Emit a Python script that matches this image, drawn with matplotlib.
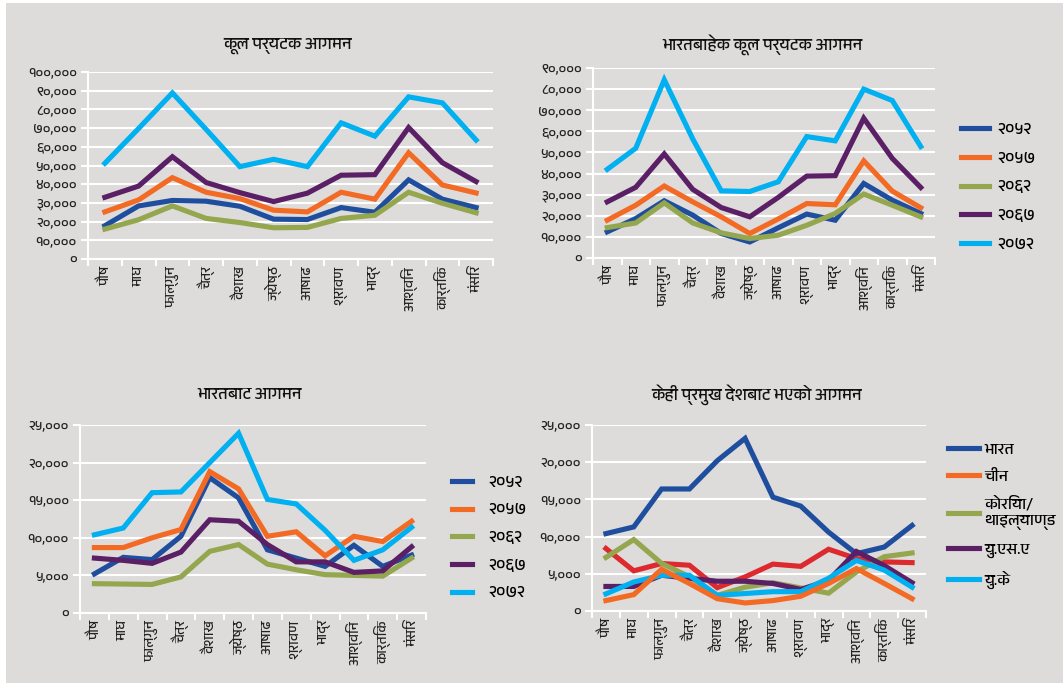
import numpy as np
import matplotlib
matplotlib.use("Agg")
import matplotlib.pyplot as plt
from matplotlib import font_manager
from matplotlib.patches import Rectangle
from matplotlib.ticker import FuncFormatter, FixedLocator


def find_devanagari_font():
    # police avec les glyphes devanagari, de préférence pas monospace
    try:
        from fontTools.ttLib import TTFont
    except ImportError:
        return None
    found = []
    for f in font_manager.fontManager.ttflist:
        try:
            cmap = TTFont(f.fname, fontNumber=0, lazy=True).getBestCmap()
        except Exception:
            continue
        if cmap and 0x0915 in cmap and 0x0966 in cmap:
            found.append(f.name)
    if not found:
        return None

    def rank(n):
        low = n.lower()
        score = 0
        if "mono" in low or "code" in low:
            score += 10
        if "serif" in low:
            score += 3
        if "devanagari" not in low:
            score += 1
        return score
    return sorted(set(found), key=lambda n: (rank(n), n))[0]


deva = find_devanagari_font()
families = ([deva] if deva else []) + ["DejaVu Sans"]
plt.rcParams["font.family"] = families

months = ["पौष", "माघ", "फाल्गुन", "चैत्र", "वैशाख", "ज्येष्ठ",
          "आषाढ", "श्रावण", "भाद्र", "आश्विन", "कार्तिक", "मंसिर"]
years = ["२०५२", "२०५७", "२०६२", "२०६७", "२०७२"]

# कूल पर्यटक आगमन
total_2052 = [17800, 28400, 31300, 30900, 28200, 21300, 21100, 27500, 25000, 42300, 32000, 27500]
total_2057 = [25200, 31600, 43500, 35700, 32300, 26100, 25200, 35700, 32000, 56800, 39600, 35300]
total_2062 = [16000, 21000, 28400, 21700, 19500, 16700, 16900, 21700, 23400, 35700, 29800, 24700]
total_2067 = [33000, 39000, 54700, 40900, 35500, 30700, 35200, 44800, 45100, 70300, 51500, 41400]
total_2072 = [51200, 69800, 88800, 69300, 49400, 53300, 49400, 72800, 65700, 86700, 83500, 63600]

# भारतबाहेक कूल पर्यटक आगमन
noind_2052 = [12400, 18700, 27100, 20300, 11600, 7600, 14300, 20800, 17900, 35300, 27400, 21100]
noind_2057 = [17900, 25000, 34100, 26600, 19500, 11600, 18500, 25800, 25200, 46000, 31700, 23800]
noind_2062 = [14400, 16600, 26100, 16600, 11900, 9200, 10800, 15500, 21100, 30300, 25000, 19500]
noind_2067 = [26600, 33500, 49300, 32500, 23900, 19500, 28700, 38800, 39000, 66200, 47200, 33400]
noind_2072 = [42000, 52000, 84400, 56400, 31800, 31500, 36100, 57500, 55500, 80000, 74600, 52800]

# भारतबाट आगमन
ind_2052 = [5200, 7400, 7100, 10200, 18000, 15300, 8400, 7300, 6200, 9000, 6200, 7700]
ind_2057 = [8700, 8700, 10000, 11100, 18800, 16500, 10200, 10800, 7600, 10200, 9500, 12200]
ind_2062 = [3900, 3850, 3800, 4800, 8200, 9100, 6500, 5750, 5100, 5000, 4900, 7300]
ind_2067 = [7300, 7000, 6600, 8100, 12400, 12200, 9100, 6800, 6800, 5400, 5600, 8800]
ind_2072 = [10400, 11300, 16000, 16100, 20000, 23900, 15100, 14500, 11000, 7000, 8400, 11400]

# केही प्रमुख देशबाट भएको आगमन
countries = ["भारत", "चीन", "कोरिया/\nथाइल्याण्ड", "यु.एस.ए", "यु.के"]
c_india = [10400, 11300, 16400, 16400, 20200, 23200, 15300, 14100, 10600, 7700, 8600, 11500]
c_china = [1400, 2200, 5600, 3700, 1650, 1080, 1400, 1980, 3700, 5700, 3700, 1650]
c_korea = [7200, 9600, 6400, 4600, 2100, 3200, 3800, 3100, 2400, 5250, 7300, 7800]
c_usa = [3300, 3300, 4800, 4400, 4000, 4000, 3700, 2900, 4100, 8000, 6100, 3800]
c_uk = [2300, 3900, 4800, 4800, 2100, 2350, 2600, 2600, 4400, 6800, 5500, 3200]
c_other = [8400, 5400, 6380, 6150, 3140, 4580, 6300, 6000, 8300, 7050, 6600, 6500]

colors = ["#1f4e9f", "#f36a24", "#94a64e", "#5b1f66", "#00b0f0"]
red = "#dc2a2e"
bg = "#dddcda"
lw = 3.7

W, H = 1063, 683
fig = plt.figure(figsize=(W / 100, H / 100), dpi=100, facecolor="white")
fig.patches.append(Rectangle((6 / W, 0), 1 - 6 / W, 1 - 3 / H, transform=fig.transFigure,
                             facecolor=bg, edgecolor="none", zorder=-10))

deva_digits = str.maketrans("0123456789", "०१२३४५६७८९")


def yfmt(v, pos):
    return f"{int(round(v)):,}".translate(deva_digits)


def make_axes(l, r, t, b):
    return fig.add_axes([l / W, 1 - b / H, (r - l) / W, (b - t) / H])


def style(ax, ymax, ystep, title, tx, ty):
    ax.set_facecolor("none")
    ax.set_xlim(-0.5, 11.5)
    ax.set_ylim(0, ymax)
    ax.yaxis.set_major_locator(FixedLocator(np.arange(0, ymax + 1, ystep)))
    ax.yaxis.set_major_formatter(FuncFormatter(yfmt))
    ax.xaxis.set_major_locator(FixedLocator(np.arange(-0.5, 12, 1)))
    ax.xaxis.set_major_formatter(FuncFormatter(lambda v, p: ""))
    ax.xaxis.set_minor_locator(FixedLocator(np.arange(12)))
    ax.set_xticklabels(months, minor=True, rotation=90, fontsize=10, color="#222222")
    ax.tick_params(axis="x", which="minor", length=0, pad=5)
    ax.tick_params(axis="x", which="major", length=5, width=1.5, color="white")
    ax.tick_params(axis="y", length=5, width=1.5, color="white", labelsize=10,
                   labelcolor="#222222", pad=3)
    ax.grid(axis="y", color="white", lw=1.5)
    ax.set_axisbelow(True)
    for s in ["top", "right"]:
        ax.spines[s].set_visible(False)
    for s in ["left", "bottom"]:
        ax.spines[s].set_color("white")
        ax.spines[s].set_linewidth(1.5)
    fig.text(tx / W, 1 - ty / H, title, ha="center", va="center", fontsize=12, color="#111111")


x = np.arange(12)

ax1 = make_axes(88, 493, 72, 259)
for vals, c in zip([total_2052, total_2057, total_2062, total_2067, total_2072], colors):
    ax1.plot(x, vals, color=c, lw=lw, solid_joinstyle="miter")
style(ax1, 100000, 10000, "कूल पर्यटक आगमन", 288, 46)

ax2 = make_axes(593, 935, 68, 258)
for vals, c, lab in zip([noind_2052, noind_2057, noind_2062, noind_2067, noind_2072], colors, years):
    ax2.plot(x, vals, color=c, lw=lw, label=lab, solid_joinstyle="miter")
style(ax2, 90000, 10000, "भारतबाहेक कूल पर्यटक आगमन", 762, 45)
ax2.legend(loc="upper left", bbox_to_anchor=(946 / W, 1 - 107 / H), bbox_transform=fig.transFigure,
           frameon=False, fontsize=12, handlelength=1.7, handletextpad=0.5, labelspacing=0.85)

ax3 = make_axes(80, 426, 425, 613)
for vals, c, lab in zip([ind_2052, ind_2057, ind_2062, ind_2067, ind_2072], colors, years):
    ax3.plot(x, vals, color=c, lw=lw, label=lab, solid_joinstyle="miter")
style(ax3, 25000, 5000, "भारतबाट आगमन", 250, 395)
ax3.legend(loc="upper left", bbox_to_anchor=(437 / W, 1 - 460 / H), bbox_transform=fig.transFigure,
           frameon=False, fontsize=12, handlelength=1.2, handletextpad=1.0, labelspacing=0.78)

ax4 = make_axes(592, 926, 425, 611)
ax4.plot(x, c_other, color=red, lw=lw, label="_nolegend_", solid_joinstyle="miter")
for vals, c, lab in zip([c_india, c_korea, c_usa, c_uk, c_china], colors[:1] + colors[2:] + colors[1:2],
                        [countries[0], countries[2], countries[3], countries[4], countries[1]]):
    ax4.plot(x, vals, color=c, lw=lw, label=lab, solid_joinstyle="miter")
style(ax4, 25000, 5000, "केही प्रमुख देशबाट भएको आगमन", 757, 395)
h, l = ax4.get_legend_handles_labels()
order = [l.index(n) for n in countries]
ax4.legend([h[i] for i in order], [l[i] for i in order], loc="upper left",
           bbox_to_anchor=(934 / W, 1 - 428 / H), bbox_transform=fig.transFigure,
           frameon=False, fontsize=11.5, handlelength=1.9, handletextpad=0.35, labelspacing=0.8)

fig.savefig("out.png", dpi=100, facecolor=fig.get_facecolor())
